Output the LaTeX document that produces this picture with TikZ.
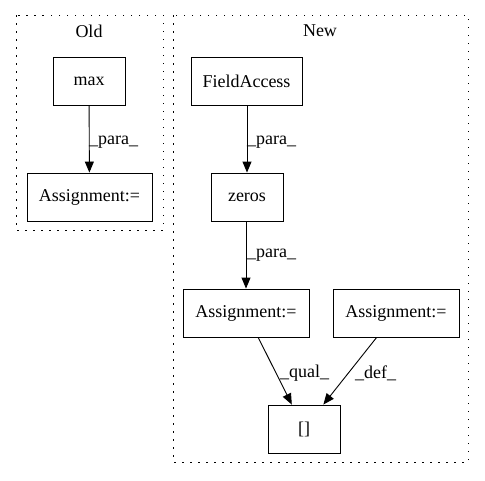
\documentclass[tikz,border=0pt]{standalone}
\usepackage{fontspec}
\setmainfont{Liberation Serif}
\usetikzlibrary{arrows.meta}
\begin{document}
\begin{tikzpicture}[x=1pt,y=-1pt,
  box/.style={draw, line width=0.9pt, inner sep=0pt, minimum height=48pt, font=\fontsize{18}{20}\selectfont},
  cluster/.style={line width=1pt, dash pattern=on 1.5pt off 6.5pt},
  ctitle/.style={inner sep=0pt, font=\fontsize{18}{20}\selectfont},
  elabel/.style={inner sep=0pt, anchor=west, font=\fontsize{18}{20}\selectfont},
  edge/.style={line width=0.9pt, -{Triangle[length=11pt,width=9pt]}}
]
\useasboundingbox (0,0) rectangle (485,480);
% clusters
\draw[cluster] (16,15) rectangle (163,230);
\node[ctitle] (oldt) at (89,31) {Old};
\draw[cluster] (173,15) rectangle (468,462);
\node[ctitle] (newt) at (320,31) {New};
% nodes
\node[box, minimum width=72pt] (max) at (89,81) {max};
\node[box, minimum width=125pt] (oa) at (89.5,197) {Assignment:=};
\node[box, minimum width=111pt] (fa) at (246.5,81) {FieldAccess};
\node[box, minimum width=72pt] (zeros) at (247,197) {zeros};
\node[box, minimum width=126pt] (a2) at (246,313) {Assignment:=};
\node[box, minimum width=126pt] (a3) at (396,313) {Assignment:=};
\node[box, minimum width=72pt] (br) at (304,429) {[]};
% edges
\draw[edge] (max) -- (oa);
\draw[edge] (fa.south -| zeros) -- (zeros);
\draw[edge] (zeros.south -| a2) -- (a2);
\draw[edge] (a2) -- (br);
\draw[edge] (a3) -- (br);
% labels
\node[elabel] (l1) at (89,142) {\_para\_};
\node[elabel] (l2) at (247,142) {\_para\_};
\node[elabel] (l3) at (247,255) {\_para\_};
\node[elabel] (l4) at (280,373) {\_qual\_};
\node[elabel] (l5) at (355,373) {\_def\_};
\end{tikzpicture}
\end{document}
